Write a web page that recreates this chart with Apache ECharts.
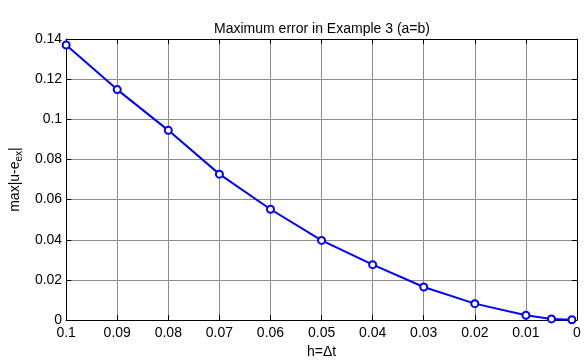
<!DOCTYPE html>
<html><head><meta charset="utf-8">
<script src="https://cdn.jsdelivr.net/npm/echarts@6/dist/echarts.min.js"></script>
<style>html,body{margin:0;padding:0;background:#fff}#c{width:584px;height:364px}</style>
</head><body><div id="c"></div>
<script>
const hValues = [0.1, 0.09, 0.08, 0.07, 0.06, 0.05, 0.04, 0.03, 0.02, 0.01, 0.005, 0.001];
const maxErr = [0.137, 0.1148, 0.0945, 0.0727, 0.0552, 0.0397, 0.0276, 0.0165, 0.0082, 0.0024, 0.0006, 0.0002];
const xTicks = [0, 0.01, 0.02, 0.03, 0.04, 0.05, 0.06, 0.07, 0.08, 0.09, 0.1];
const yTicks = [0, 0.02, 0.04, 0.06, 0.08, 0.1, 0.12, 0.14];

const font = 'Liberation Sans, Arial, sans-serif';
const chart = echarts.init(document.getElementById('c'));
const fmt = v => { const r = Math.round(v*1000)/1000; return String(r); };
const common = {
  axisLine: {show: true, onZero: false, lineStyle: {color: '#000', width: 1}},
  axisTick: {show: true, inside: true, length: 5, lineStyle: {color: '#000'}},
  splitLine: {show: false}
};
const grid = {show: true, lineStyle: {color: '#8c8c8c', type: 'solid', width: 1}};
chart.setOption({
  animation: false,
  title: {text: 'Maximum error in Example 3 (a=b)', left: 317, top: 17, textAlign: 'center',
    textStyle: {fontFamily: font, fontSize: 14, fontWeight: 'normal', color: '#000'}},
  grid: {left: 57, right: 7, top: 39, bottom: 36, containLabel: false},
  xAxis: [
    Object.assign({}, common, {type: 'value', inverse: true, min: 0, max: 0.1, interval: 0.01,
      name: 'h=\u0394t', nameLocation: 'middle', nameGap: 22,
      nameTextStyle: {fontFamily: font, fontSize: 14, color: '#000'},
      axisLabel: {fontFamily: font, fontSize: 14, color: '#000', margin: 6, formatter: fmt},
      splitLine: grid}),
    Object.assign({}, common, {type: 'value', inverse: true, min: 0, max: 0.1, interval: 0.01,
      position: 'top', axisLabel: {show: false}})
  ],
  yAxis: [
    Object.assign({}, common, {type: 'value', min: 0, max: 0.14, interval: 0.02,
      name: '{a|max|u-e}{b|ex}{a||}', nameLocation: 'middle', nameGap: 40,
      nameTextStyle: {fontFamily: font, fontSize: 14, color: '#000',
        rich: {a: {fontFamily: font, fontSize: 14, color: '#000'},
               b: {fontFamily: font, fontSize: 10, color: '#000', verticalAlign: 'bottom', padding: [8, 0, 0, 0]}}},
      axisLabel: {fontFamily: font, fontSize: 14, color: '#000', margin: 4, formatter: fmt},
      splitLine: grid}),
    Object.assign({}, common, {type: 'value', min: 0, max: 0.14, interval: 0.02,
      position: 'right', axisLabel: {show: false}})
  ],
  series: [{
    type: 'line', data: hValues.map((h, i) => [h, maxErr[i]]),
    lineStyle: {color: '#0000ff', width: 2},
    itemStyle: {color: '#fff', borderColor: '#0000ff', borderWidth: 2},
    symbol: 'circle', symbolSize: 7, showSymbol: true
  }]
});
</script></body></html>
